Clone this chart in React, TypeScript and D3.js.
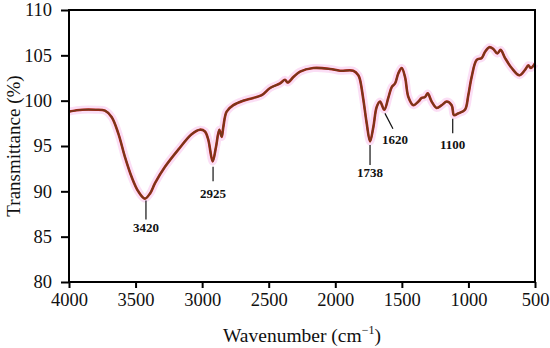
import React, { useEffect, useRef } from "react";
import * as d3 from "d3";

// wavenumber (cm-1) and transmittance (%)
const wavenumbers = [
  4000, 3900, 3800, 3730, 3680, 3630, 3580, 3530, 3480, 3430, 3390, 3354, 3279, 3179, 3079, 3016, 2979,
  2954, 2921, 2896, 2871, 2853, 2841, 2816, 2766, 2691, 2616, 2553, 2490, 2415, 2378, 2357, 2315, 2265,
  2165, 2040, 1965, 1865, 1827, 1814, 1789, 1764, 1739, 1714, 1689, 1664, 1632, 1602, 1576, 1551, 1527,
  1501, 1476, 1451, 1414, 1376, 1351, 1326, 1306, 1276, 1239, 1201, 1163, 1126, 1108, 1076, 1026, 1001,
  976, 938, 900, 875, 843, 813, 783, 758, 725, 675, 618, 575, 550, 532, 500,
];
const transmittance = [
  98.8, 99.0, 99.0, 98.9, 98.2, 96.4, 93.8, 91.6, 90.0, 89.2, 89.8, 90.9, 92.7, 94.6, 96.3, 96.8, 96.6,
  95.7, 93.3, 94.9, 96.8, 96.0, 97.1, 98.8, 99.5, 100.0, 100.3, 100.6, 101.4, 101.9, 102.3, 102.0, 102.6, 103.2,
  103.6, 103.5, 103.3, 103.3, 102.8, 102.3, 100.1, 97.5, 95.5, 97.1, 99.3, 99.9, 99.0, 100.3, 101.5, 101.9, 103.0,
  103.6, 102.6, 100.4, 99.5, 99.9, 100.3, 100.4, 100.8, 99.9, 99.2, 99.5, 99.9, 99.5, 98.4, 98.6, 99.0, 100.6,
  102.6, 104.5, 104.7, 105.4, 105.9, 105.7, 105.2, 105.6, 104.7, 103.6, 102.8, 103.4, 103.9, 103.6, 104.1,
];

const xTicks = [4000, 3500, 3000, 2500, 2000, 1500, 1000, 500];
const yTicks = [80, 85, 90, 95, 100, 105, 110];

// peak labels: text, leader line (x1,y1)->(x2,y2), text anchor point
const peakLabels = ["3420", "2925", "1738", "1620", "1100"];
const peakLines = [
  [3422, 89.0, 3422, 86.9],
  [2918, 92.7, 2918, 91.1],
  [1739, 95.1, 1739, 92.9],
  [1627, 98.6, 1567, 96.9],
  [1118, 98.0, 1118, 96.4],
];
const peakText = [
  [3422, 85.5],
  [2918, 89.3],
  [1739, 91.6],
  [1551, 95.2],
  [1118, 94.7],
];

export default function App() {
  const svgRef = useRef<SVGSVGElement>(null);

  useEffect(() => {
    const svg = d3.select(svgRef.current);
    svg.selectAll("*").remove();
    const width = 550;
    const height = 348;
    const margin = { top: 10, right: 15, bottom: 66, left: 69 };
    const font = "'Liberation Serif', 'DejaVu Serif', serif";

    const x = d3.scaleLinear().domain([4000, 500]).range([margin.left, width - margin.right]);
    const y = d3.scaleLinear().domain([80, 110]).range([height - margin.bottom, margin.top]);

    const data = wavenumbers.map((w, i) => ({ w, t: transmittance[i] }));
    const line = d3
      .line<{ w: number; t: number }>()
      .x((d) => x(d.w))
      .y((d) => y(d.t))
      .curve(d3.curveCatmullRom.alpha(0.5));

    // soft pink halo under the trace
    svg
      .append("path")
      .datum(data)
      .attr("d", line)
      .attr("fill", "none")
      .attr("stroke", "#f9c8ee")
      .attr("stroke-width", 8)
      .attr("opacity", 0.6);
    svg
      .append("path")
      .datum(data)
      .attr("d", line)
      .attr("fill", "none")
      .attr("stroke", "#b8231a")
      .attr("stroke-width", 2.6);
    svg
      .append("path")
      .datum(data)
      .attr("d", line)
      .attr("fill", "none")
      .attr("stroke", "#74381a")
      .attr("stroke-width", 1.7);

    // frame
    svg
      .append("rect")
      .attr("x", x(4000))
      .attr("y", y(110))
      .attr("width", x(500) - x(4000))
      .attr("height", y(80) - y(110))
      .attr("fill", "none")
      .attr("stroke", "#000")
      .attr("stroke-width", 2);

    // x axis
    const xAxis = svg
      .append("g")
      .attr("transform", `translate(0,${y(80)})`)
      .call(d3.axisBottom(x).tickValues(xTicks).tickSize(6).tickPadding(5).tickFormat(d3.format("d")));
    xAxis.select(".domain").remove();
    xAxis.selectAll("line").attr("stroke-width", 2);
    xAxis.selectAll("text").attr("font-family", font).attr("font-size", 18.5).attr("fill", "#111");

    // y axis
    const yAxis = svg
      .append("g")
      .attr("transform", `translate(${x(4000)},0)`)
      .call(d3.axisLeft(y).tickValues(yTicks).tickSize(8).tickPadding(9));
    yAxis.select(".domain").remove();
    yAxis.selectAll("line").attr("stroke-width", 2);
    yAxis.selectAll("text").attr("font-family", font).attr("font-size", 18.5).attr("fill", "#111");

    // axis titles
    const xTitle = svg
      .append("text")
      .attr("x", (x(4000) + x(500)) / 2)
      .attr("y", 342)
      .attr("text-anchor", "middle")
      .attr("font-family", font)
      .attr("font-size", 19.5)
      .attr("fill", "#111");
    xTitle.append("tspan").text("Wavenumber (cm");
    xTitle.append("tspan").attr("dy", -8).attr("font-size", 12).text("\u2212");
    xTitle.append("tspan").attr("font-size", 12).text("1");
    xTitle.append("tspan").attr("dy", 8).text(")");

    svg
      .append("text")
      .attr("transform", `translate(20,${(y(80) + y(110)) / 2}) rotate(-90)`)
      .attr("text-anchor", "middle")
      .attr("font-family", font)
      .attr("font-size", 19)
      .attr("fill", "#111")
      .text("Transmittance (%)");

    // peak annotations
    peakLabels.forEach((lab, i) => {
      const [x1, y1, x2, y2] = peakLines[i];
      svg
        .append("line")
        .attr("x1", x(x1))
        .attr("y1", y(y1))
        .attr("x2", x(x2))
        .attr("y2", y(y2))
        .attr("stroke", "#111")
        .attr("stroke-width", 1.2);
      svg
        .append("text")
        .attr("x", x(peakText[i][0]))
        .attr("y", y(peakText[i][1]))
        .attr("text-anchor", "middle")
        .attr("font-family", font)
        .attr("font-weight", "bold")
        .attr("font-size", 13)
        .attr("fill", "#111")
        .text(lab);
    });
  }, []);

  return <svg ref={svgRef} width={550} height={348} style={{ position: "absolute", left: 0, top: 0 }}></svg>;
}
